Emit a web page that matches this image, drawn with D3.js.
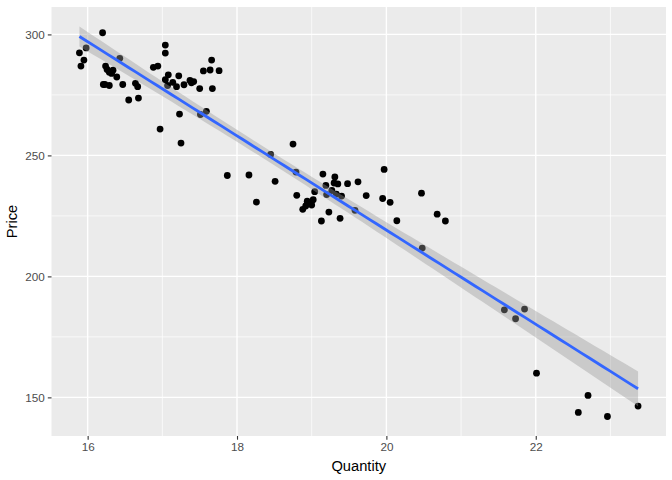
<!DOCTYPE html>
<html>
<head>
<meta charset="utf-8">
<script src="https://cdn.jsdelivr.net/npm/d3@7"></script>
<style>
  body { margin: 0; background: #fff; }
  text { font-family: "Liberation Sans", Arial, Helvetica, sans-serif; }
</style>
</head>
<body>
<div id="chart"></div>
<script>
// quantity / price pairs
const quantity = [16.20, 15.89, 15.98, 15.95, 15.91, 16.43, 16.24, 16.26, 16.29, 16.32,
  16.34, 16.39, 16.21, 16.23, 16.29, 16.47, 16.55, 16.64, 16.67, 16.68,
  16.88, 16.94, 17.04, 17.04, 17.08, 17.04, 17.07, 17.14, 17.19, 17.22,
  17.29, 17.37, 17.39, 17.42, 17.50, 17.55, 17.64, 17.66, 17.67, 17.76,
  17.23, 16.97, 17.25, 17.51, 17.59, 18.75, 18.45, 18.79, 17.87, 18.16,
  18.51, 18.26, 19.15, 19.19, 19.04, 18.80, 19.20, 18.94, 19.02, 18.97,
  19.00, 18.88, 18.92, 19.13, 19.23, 19.31, 19.30, 19.35, 19.48, 19.62,
  19.27, 19.33, 19.40, 19.73, 19.97, 19.95, 20.05, 20.14, 20.47, 20.68,
  20.79, 20.48, 19.58, 19.38, 21.58, 21.85, 21.73, 22.01, 22.70, 22.57,
  22.96, 23.37];
const price = [300.7, 292.4, 294.4, 289.4, 286.9, 290.1, 286.9, 285.5, 284.4, 283.9,
  285.2, 282.4, 279.3, 279.3, 278.9, 279.3, 272.9, 279.8, 278.4, 273.7,
  286.4, 286.9, 295.6, 292.3, 283.3, 281.3, 278.9, 280.2, 278.4, 282.9,
  279.2, 281.0, 280.0, 280.5, 277.6, 284.9, 285.3, 289.4, 277.6, 285.0,
  267.1, 260.9, 255.1, 266.9, 268.2, 254.7, 250.4, 243.1, 241.7, 241.9,
  239.3, 230.7, 242.3, 237.6, 235.0, 233.5, 233.8, 231.1, 231.7, 230.4,
  229.5, 227.7, 229.1, 222.9, 226.6, 241.1, 238.6, 238.2, 238.3, 239.1,
  235.5, 234.0, 233.2, 233.4, 244.2, 232.2, 230.6, 223.0, 234.4, 225.7,
  222.9, 211.7, 227.3, 224.0, 186.2, 186.5, 182.5, 160.0, 150.8, 143.8,
  142.1, 146.4];

const xTicks = [16, 18, 20, 22];
const yTicks = [150, 200, 250, 300];
const xMinor = [17, 19, 21, 23];
const yMinor = [175, 225, 275];

const width = 672, height = 480;
const margin = {left: 51.5, right: 6, top: 7, bottom: 44};

const data = quantity.map((q, i) => ({q: q, p: price[i]}));

// linear fit with 95% confidence band (like geom_smooth(method = "lm"))
const n = data.length;
const mx = d3.mean(data, d => d.q), my = d3.mean(data, d => d.p);
const sxx = d3.sum(data, d => (d.q - mx) ** 2);
const sxy = d3.sum(data, d => (d.q - mx) * (d.p - my));
const slope = sxy / sxx, icpt = my - slope * mx;
const sse = d3.sum(data, d => (d.p - icpt - slope * d.q) ** 2);
const s = Math.sqrt(sse / (n - 2));
const tq = 1.987;
const xs = d3.extent(quantity);
const fit = d3.range(80).map(i => {
  const x = xs[0] + (xs[1] - xs[0]) * i / 79;
  const yhat = icpt + slope * x;
  const se = s * Math.sqrt(1 / n + (x - mx) ** 2 / sxx);
  return {x: x, y: yhat, lo: yhat - tq * se, hi: yhat + tq * se};
});

// ggplot style 5% expansion
const xr = xs[1] - xs[0];
const yLo = Math.min(d3.min(price), d3.min(fit, d => d.lo));
const yHi = Math.max(d3.max(price), d3.max(fit, d => d.hi));
const yr = yHi - yLo;

const x = d3.scaleLinear()
  .domain([xs[0] - 0.05 * xr, xs[1] + 0.05 * xr])
  .range([margin.left, width - margin.right]);
const y = d3.scaleLinear()
  .domain([yLo - 0.05 * yr, yHi + 0.05 * yr])
  .range([height - margin.bottom, margin.top]);

const svg = d3.select("#chart").append("svg")
  .attr("width", width)
  .attr("height", height);

// panel
svg.append("rect")
  .attr("x", margin.left).attr("y", margin.top)
  .attr("width", width - margin.left - margin.right)
  .attr("height", height - margin.top - margin.bottom)
  .attr("fill", "#EBEBEB");

// grid
svg.selectAll(".gx-minor").data(xMinor).enter().append("line")
  .attr("x1", d => x(d)).attr("x2", d => x(d))
  .attr("y1", margin.top).attr("y2", height - margin.bottom)
  .attr("stroke", "#fff").attr("stroke-width", 0.7);
svg.selectAll(".gy-minor").data(yMinor).enter().append("line")
  .attr("y1", d => y(d)).attr("y2", d => y(d))
  .attr("x1", margin.left).attr("x2", width - margin.right)
  .attr("stroke", "#fff").attr("stroke-width", 0.7);
svg.selectAll(".gx").data(xTicks).enter().append("line")
  .attr("x1", d => x(d)).attr("x2", d => x(d))
  .attr("y1", margin.top).attr("y2", height - margin.bottom)
  .attr("stroke", "#fff").attr("stroke-width", 1.4);
svg.selectAll(".gy").data(yTicks).enter().append("line")
  .attr("y1", d => y(d)).attr("y2", d => y(d))
  .attr("x1", margin.left).attr("x2", width - margin.right)
  .attr("stroke", "#fff").attr("stroke-width", 1.4);

// points
svg.append("g").selectAll("circle")
  .data(data).enter().append("circle")
  .attr("cx", d => x(d.q))
  .attr("cy", d => y(d.p))
  .attr("r", 3.4)
  .attr("fill", "#000");

// confidence ribbon
svg.append("path")
  .datum(fit)
  .attr("d", d3.area().x(d => x(d.x)).y0(d => y(d.lo)).y1(d => y(d.hi)))
  .attr("fill", "#999999")
  .attr("fill-opacity", 0.4);

// fitted line
svg.append("path")
  .datum(fit)
  .attr("d", d3.line().x(d => x(d.x)).y(d => y(d.y)))
  .attr("fill", "none")
  .attr("stroke", "#3366FF")
  .attr("stroke-width", 2.8);

// axes
const xAxis = svg.append("g")
  .attr("transform", `translate(0,${height - margin.bottom})`)
  .call(d3.axisBottom(x).tickValues(xTicks).tickSize(3.7).tickPadding(3));
const yAxis = svg.append("g")
  .attr("transform", `translate(${margin.left},0)`)
  .call(d3.axisLeft(y).tickValues(yTicks).tickSize(3.7).tickPadding(3));
[xAxis, yAxis].forEach(a => {
  a.select(".domain").remove();
  a.selectAll("line").attr("stroke", "#333333").attr("stroke-width", 1.1);
  a.selectAll("text").attr("fill", "#4D4D4D").attr("font-size", "11.7px")
    .attr("font-family", "Liberation Sans, Arial, sans-serif");
});

// axis titles
svg.append("text")
  .attr("x", (margin.left + width - margin.right) / 2)
  .attr("y", 471)
  .attr("text-anchor", "middle")
  .attr("font-size", "14.7px")
  .attr("fill", "#000")
  .text("Quantity");
svg.append("text")
  .attr("transform", `translate(17,${(margin.top + height - margin.bottom) / 2}) rotate(-90)`)
  .attr("text-anchor", "middle")
  .attr("font-size", "14.7px")
  .attr("fill", "#000")
  .text("Price");
</script>
</body>
</html>
